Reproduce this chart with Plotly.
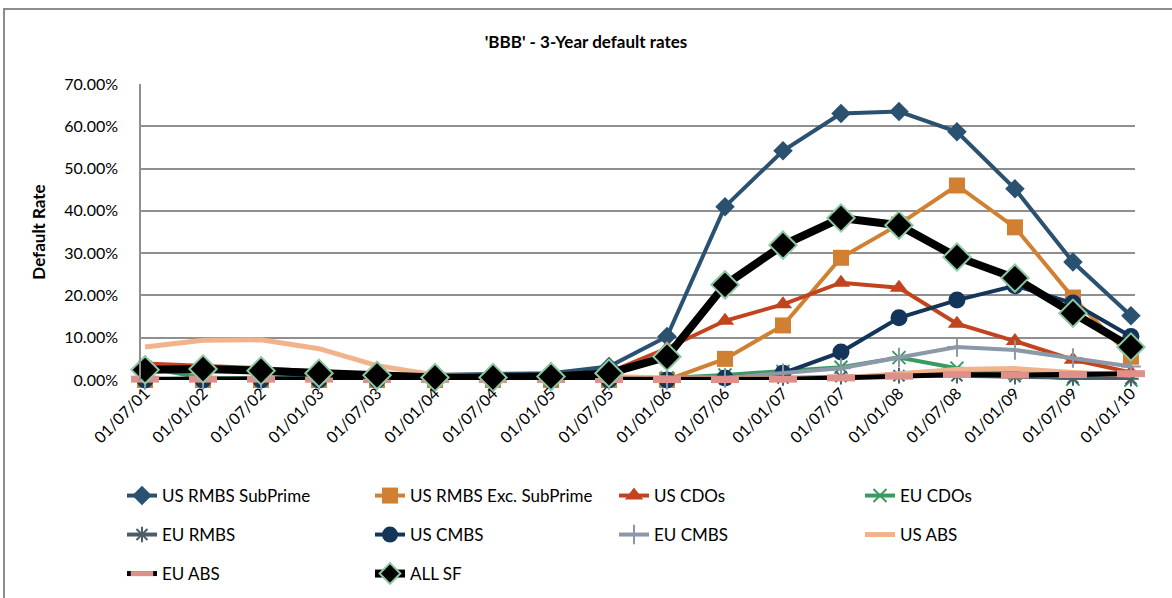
import plotly.graph_objects as go

categories = ["01/07/01","01/01/02","01/07/02","01/01/03","01/07/03","01/01/04","01/07/04","01/01/05","01/07/05",
              "01/01/06","01/07/06","01/01/07","01/07/07","01/01/08","01/07/08","01/01/09","01/07/09","01/01/10"]

us_rmbs_subprime = [0.2,0.3,0.5,0.8,1.0,1.0,1.2,1.6,3.2,10.3,41.0,54.2,63.0,63.5,58.7,45.2,27.9,15.2]
us_rmbs_exc      = [0,0,0,0,0,0,0,0,0,0,5.0,12.9,28.9,36.8,46.0,36.1,19.5,5.5]
us_cdos          = [3.9,3.4,2.8,2.0,1.3,0.8,0.6,0.8,1.8,7.5,14.0,17.9,23.0,21.8,13.3,9.2,4.8,1.8]
eu_cdos          = [3.0,0.5,0.3,0.3,0.3,0.3,0.3,0.3,0.3,0.5,1.2,2.0,3.0,5.3,2.8,1.5,0.2,0.0]
eu_rmbs          = [0,0,0,0,0,0,0,0,0,0,0.2,0.5,0.8,1.0,1.0,0.8,0.5,0.3]
us_cmbs          = [0,0,0,0,0,0,0,0,0,0,0.5,1.6,6.6,14.7,18.9,22.3,18.2,10.3]
eu_cmbs          = [0,0,0,0,0,0,0,0,0,0,0.5,1.6,2.8,5.3,7.8,7.1,5.2,3.2]
us_abs           = [7.8,9.4,9.5,7.4,3.4,1.2,0.8,0.8,0.8,0.5,0.3,0.3,0.5,1.5,2.5,2.7,1.8,1.2]
eu_abs           = [0.2,0.2,0.2,0.2,0.1,0.1,0.1,0.1,0.1,0.1,0.1,0.2,0.5,0.9,1.3,1.2,1.3,1.5]
all_sf           = [2.4,2.6,2.2,1.6,1.1,0.6,0.6,0.8,1.6,5.5,22.5,31.9,38.3,36.6,29.1,24.1,15.8,7.8]

FONT = "Lato, 'Open Sans', sans-serif"

series = [
    ("US RMBS SubPrime", us_rmbs_subprime, dict(color="#2b5170", width=4),
     dict(symbol="diamond", size=15, color="#2b5170")),
    ("US RMBS Exc. SubPrime", us_rmbs_exc, dict(color="#d08030", width=4),
     dict(symbol="square", size=16, color="#d08030")),
    ("US CDOs", us_cdos, dict(color="#c1441e", width=4),
     dict(symbol="triangle-up", size=16, color="#c1441e")),
    ("EU CDOs", eu_cdos, dict(color="#3a9a62", width=4),
     dict(symbol="x-thin", size=13, color="#3a9a62", line=dict(color="#3a9a62", width=2))),
    ("EU RMBS", eu_rmbs, dict(color="#4b5e68", width=4),
     dict(symbol="asterisk", size=13, color="#4b5e68", line=dict(color="#4b5e68", width=2))),
    ("US CMBS", us_cmbs, dict(color="#14355a", width=4),
     dict(symbol="circle", size=17, color="#14355a")),
    ("EU CMBS", eu_cmbs, dict(color="#8b98a7", width=4),
     dict(symbol="cross-thin", size=14, color="#8b98a7", line=dict(color="#8b98a7", width=2))),
    ("US ABS", us_abs, dict(color="#f1b38c", width=5), None),
    ("EU ABS", eu_abs, dict(color="#000000", width=5),
     dict(symbol="line-ew", size=20, color="#e0908a", line=dict(color="#e0908a", width=7))),
    ("ALL SF", all_sf, dict(color="#000000", width=8),
     dict(symbol="diamond", size=21, color="#000000", line=dict(color="#8cc8a0", width=2))),
]

# body margin is removed by the post_script below, so the figure sits at (0, 0)
OFF = 0
W, H = 1172 - OFF, 598 - OFF
L = 141 - OFF
T = 84 - OFF
R = W - (1135 - OFF)
B = H - (380 - OFF)
pw, ph = W - L - R, H - T - B

def px_x(p):
    return (p - OFF - L) / pw

def px_y(p):
    return (H - B - (p - OFF)) / ph

col_text_x = [163, 411, 655, 901]
row_y = [496, 535, 574]

fig = go.Figure()
legends = {}
for i, (name, vals, line, marker) in enumerate(series):
    leg_id = "legend" if i == 0 else f"legend{i + 1}"
    kw = dict(x=categories, y=[v / 100 for v in vals], name=name, line=line,
              legend=leg_id, cliponaxis=False, showlegend=True)
    if marker is None:
        kw["mode"] = "lines"
    else:
        kw["mode"] = "lines+markers"
        kw["marker"] = marker
    fig.add_trace(go.Scatter(**kw))
    r, c = divmod(i, 4)
    legends[leg_id] = dict(orientation="h", x=px_x(col_text_x[c] - 41), y=px_y(row_y[r]),
                           xanchor="left", yanchor="middle", bgcolor="rgba(0,0,0,0)",
                           visible=True,
                           font=dict(family=FONT, size=17, color="#000000"))

fig.update_layout(
    width=W, height=H,
    showlegend=True,
    margin=dict(l=L, r=R, t=T, b=B, pad=0, autoexpand=False),
    paper_bgcolor="white", plot_bgcolor="white",
    font=dict(family=FONT, size=16, color="#000000"),
    title=dict(text="<b>'BBB' - 3-Year default rates</b>", x=0.5, xanchor="center",
               y=1 - (42 - OFF) / H, yanchor="middle", font=dict(family=FONT, size=17, color="#000000")),
    xaxis=dict(type="category", range=[-0.07, 17.07], tickangle=-45,
               showgrid=False, showline=False, zeroline=False, ticks="",
               tickfont=dict(family=FONT, size=16, color="#000000")),
    yaxis=dict(range=[0, 0.70], dtick=0.10, tickformat=".2%",
               showgrid=True, gridcolor="#8f8f8f", gridwidth=1.5,
               showline=True, linecolor="#8f8f8f", linewidth=1.5,
               zeroline=False, ticks="", ticklabelstandoff=18,
               tickfont=dict(family=FONT, size=16, color="#000000"),
               title=dict(text="<b>Default Rate</b>", standoff=14,
                          font=dict(family=FONT, size=17, color="#000000"))),
    shapes=[dict(type="rect", xref="paper", yref="paper",
                 x0=px_x(4), x1=px_x(1190), y0=px_y(620), y1=px_y(9),
                 line=dict(color="#8c8c8c", width=2), fillcolor="rgba(0,0,0,0)", layer="below")],
    **legends,
)

fig.write_html("out.html", config={"displayModeBar": False},
               post_script="document.body.style.margin='0';document.body.style.overflow='hidden';")
